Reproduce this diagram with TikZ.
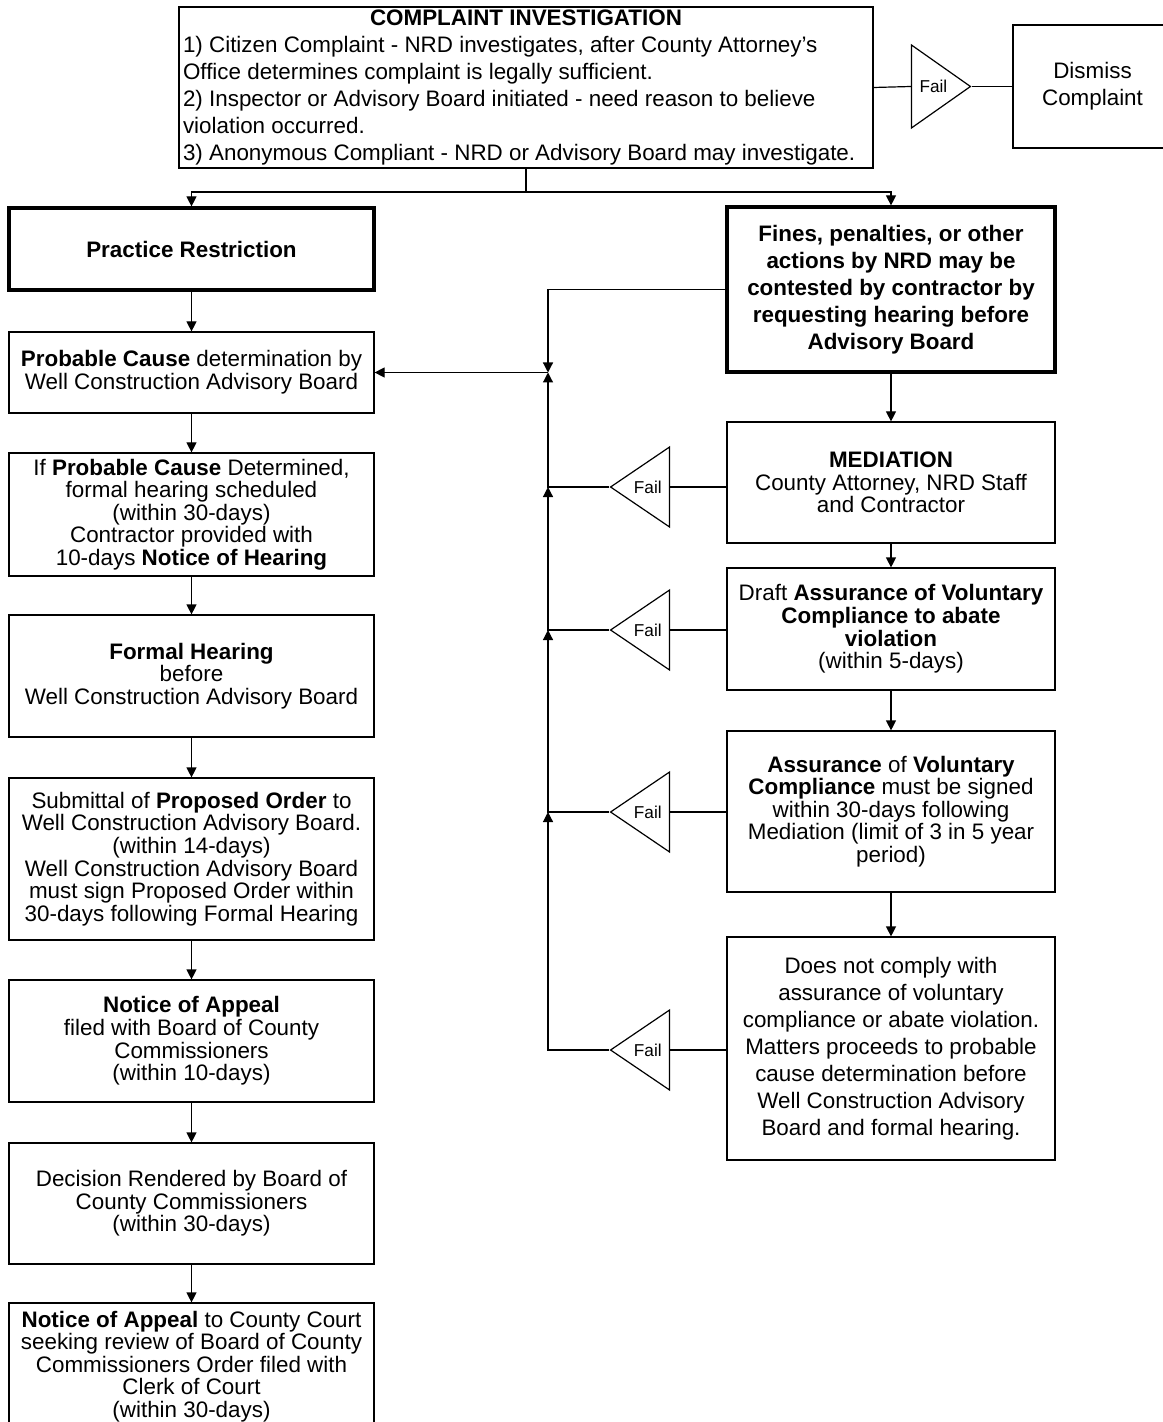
\documentclass[tikz,border=0pt]{standalone}
\usepackage{fontspec}
\setmainfont{Liberation Sans}
\usepackage{tikz}
\usetikzlibrary{arrows.meta}
\usetikzlibrary{shapes.geometric}
\newcommand\bodyfnt{\fontsize{11.2pt}{11.3pt}\selectfont}
\newcommand\loosefnt{\fontsize{11.2pt}{13.5pt}\selectfont}
\newcommand\failfnt{\fontsize{8.6pt}{9pt}\selectfont}
\tikzset{box/.style={draw, line width=0.6pt, align=center, inner sep=1pt, font=\bodyfnt}}
\tikzset{leftbox/.style={box, minimum width=182.5pt}}
\tikzset{rightbox/.style={box, minimum width=164pt}}
\tikzset{heavy/.style={line width=1.6pt}}
\tikzset{fail/.style={draw, line width=0.6pt, isosceles triangle, isosceles triangle stretches, inner sep=0pt, minimum height=29.5pt, minimum width=40pt, font=\failfnt}}
\tikzset{arr/.style={-{Triangle[length=5pt,width=5pt]}, line width=0.6pt}}
\begin{document}
\begin{tikzpicture}[x=0.5pt, y=-0.5pt]
\useasboundingbox (0,0) rectangle (1162,1422);
\node [box, font=\fontsize{11.2pt}{13.5pt}\selectfont, align=left, minimum width=347pt, minimum height=80.5pt] (top) at (526,87.5)
  {\makebox[343pt]{\textbf{COMPLAINT INVESTIGATION}}\\
   1) Citizen Complaint - NRD investigates, after County Attorney's\\
   Office determines complaint is legally sufficient.\\
   2) Inspector or Advisory Board initiated - need reason to believe\\
   violation occurred.\\
   3) Anonymous Compliant - NRD or Advisory Board may investigate.};
\node [fail, minimum width=41.5pt, anchor=apex] (ftop) at (972,86.5) {Fail};
\node [box, font=\loosefnt, minimum width=79.5pt, minimum height=61.5pt] (dismiss) at (1092.5,86.5) {Dismiss\\Complaint};
\coordinate (split) at (526,192);

\node [leftbox, heavy, minimum height=41pt] (pr) at (191.5,249) {\textbf{Practice Restriction}};
\node [leftbox, minimum height=40.5pt] (pc) at (191.5,372.5) {\textbf{Probable Cause} determination by\\Well Construction Advisory Board};
\node [leftbox, minimum height=61.5pt] (ifpc) at (191.5,514.5) {If \textbf{Probable Cause} Determined,\\formal hearing scheduled\\(within 30-days)\\Contractor provided with\\10-days \textbf{Notice of Hearing}};
\node [leftbox, minimum height=61pt] (fh) at (191.5,676) {\textbf{Formal Hearing}\\before\\Well Construction Advisory Board};
\node [leftbox, minimum height=81pt] (sub) at (191.5,859) {Submittal of \textbf{Proposed Order} to\\Well Construction Advisory Board.\\(within 14-days)\\Well Construction Advisory Board\\must sign Proposed Order within\\30-days following Formal Hearing};
\node [leftbox, minimum height=61pt] (noa) at (191.5,1041) {\textbf{Notice of Appeal}\\filed with Board of County\\Commissioners\\(within 10-days)};
\node [leftbox, minimum height=60.5pt] (dec) at (191.5,1203.5) {Decision Rendered by Board of\\County Commissioners\\(within 30-days)};
\node [leftbox, minimum height=63.5pt] (court) at (191.5,1366.5) {\textbf{Notice of Appeal} to County Court\\seeking review of Board of County\\Commissioners Order filed with\\Clerk of Court\\(within 30-days)};

\node [rightbox, heavy, font=\loosefnt\bfseries, minimum height=82.5pt] (fines) at (891,289.5) {Fines, penalties, or other\\actions by NRD may be\\contested by contractor by\\requesting hearing before\\Advisory Board};
\node [rightbox, minimum height=60.5pt] (med) at (891,482.5) {\textbf{MEDIATION}\\County Attorney, NRD Staff\\and Contractor};
\node [rightbox, minimum height=61pt] (draft) at (891,629) {Draft \textbf{Assurance of Voluntary}\\\textbf{Compliance to abate}\\\textbf{violation}\\(within 5-days)};
\node [rightbox, minimum height=80.5pt] (avc) at (891,811.5) {\textbf{Assurance} of \textbf{Voluntary}\\\textbf{Compliance} must be signed\\within 30-days following\\Mediation (limit of 3 in 5 year\\period)};
\node [rightbox, font=\loosefnt, minimum height=111.5pt] (dnc) at (891,1048.5) {Does not comply with\\assurance of voluntary\\compliance or abate violation.\\Matters proceeds to probable\\cause determination before\\Well Construction Advisory\\Board and formal hearing.};

\node [fail, shape border rotate=180, anchor=apex] (f1) at (609,487) {Fail};
\node [fail, shape border rotate=180, anchor=apex] (f2) at (609,630) {Fail};
\node [fail, shape border rotate=180, anchor=apex] (f3) at (609,812) {Fail};
\node [fail, shape border rotate=180, anchor=apex] (f4) at (609,1050) {Fail};
\coordinate (j0) at (548,372.5);

\draw [line width=0.6pt] (top.east) -- (ftop.lower side);
\draw [line width=0.6pt] (ftop.apex) -- (dismiss.west);
\draw [line width=0.6pt] (top.south) -- (split);
\draw [arr] (split) -| (pr.north);
\draw [arr] (split) -| (fines.north);
\foreach \a/\b in {pr/pc, pc/ifpc, ifpc/fh, fh/sub, sub/noa, noa/dec, dec/court, fines/med, med/draft, draft/avc, avc/dnc}
  \draw [arr] (\a) -- (\b);
\foreach \f/\g in {f1/med, f2/draft, f3/avc, f4/dnc}
  \draw [line width=0.6pt] (\f.lower side) -- (\f.lower side -| \g.west);
\draw [arr] (fines.west) -| (j0);
\draw [arr] (f1.apex) -| (j0);
\draw [arr] (f2.apex) -| (f1.apex -| j0);
\draw [arr] (f3.apex) -| (f2.apex -| j0);
\draw [arr] (f4.apex) -| (f3.apex -| j0);
\draw [arr] (j0) -- (pc.east);
\end{tikzpicture}
\end{document}
